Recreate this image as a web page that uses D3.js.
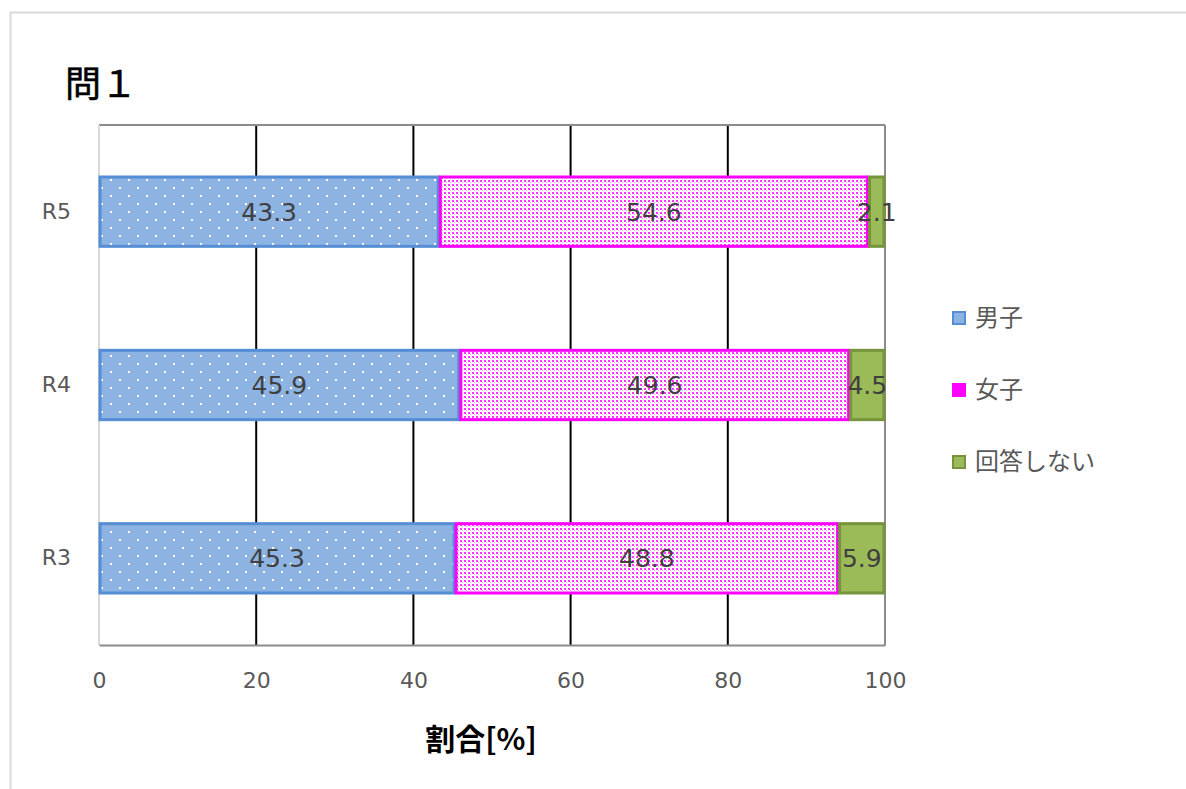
<!DOCTYPE html>
<html>
<head>
<meta charset="utf-8">
<script src="https://cdn.jsdelivr.net/npm/d3@7"></script>
<style>
  body { margin: 0; background: #fff; }
  text { font-family: "Noto Sans CJK JP", "Noto Sans", sans-serif; }
</style>
</head>
<body>
<div id="chart"></div>
<script>
const years = ["R5", "R4", "R3"];
const seriesNames = ["男子", "女子", "回答しない"];
const boys = [43.3, 45.9, 45.3];
const girls = [54.6, 49.6, 48.8];
const noAnswer = [2.1, 4.5, 5.9];
const xTicks = [0, 20, 40, 60, 80, 100];

const width = 1186, height = 789;
const plot = { left: 99, right: 885, top: 125, bottom: 645 };
const numFont = "'DejaVu Sans', 'Noto Sans', sans-serif";

const svg = d3.select("#chart").append("svg")
  .attr("width", width)
  .attr("height", height);

// patterns
const defs = svg.append("defs");
const pBlue = defs.append("pattern").attr("id", "pBlue")
  .attr("patternUnits", "userSpaceOnUse").attr("width", 18).attr("height", 16);
pBlue.append("rect").attr("width", 18).attr("height", 16).attr("fill", "#8DB3E2");
pBlue.append("rect").attr("x", 2).attr("y", 3).attr("width", 2).attr("height", 2).attr("fill", "#fff");
pBlue.append("rect").attr("x", 11).attr("y", 11).attr("width", 2).attr("height", 2).attr("fill", "#fff");

const pPink = defs.append("pattern").attr("id", "pPink")
  .attr("patternUnits", "userSpaceOnUse").attr("width", 4).attr("height", 4);
pPink.append("rect").attr("width", 4).attr("height", 4).attr("fill", "#fff");
pPink.append("rect").attr("x", 0).attr("y", 0).attr("width", 2).attr("height", 2).attr("fill", "#FF33FF");
pPink.append("rect").attr("x", 2).attr("y", 2).attr("width", 1).attr("height", 1).attr("fill", "#FF99FF");

// outer frame
svg.append("path")
  .attr("d", `M10.5,${height} V12.5 H${width}`)
  .attr("fill", "none").attr("stroke", "#d9d9d9").attr("stroke-width", 2);

const x = d3.scaleLinear().domain([0, 100]).range([plot.left, plot.right]);
const y = d3.scaleBand().domain(years).range([plot.top, plot.bottom]).paddingInner(0.6).paddingOuter(0.3);

// gridlines
svg.append("g").selectAll("line")
  .data(xTicks.filter(t => t > 0 && t < 100))
  .join("line")
  .attr("x1", d => x(d)).attr("x2", d => x(d))
  .attr("y1", plot.top).attr("y2", plot.bottom)
  .attr("stroke", "#000").attr("stroke-width", 2);

// plot border
svg.append("line").attr("x1", plot.left).attr("x2", plot.right)
  .attr("y1", plot.top).attr("y2", plot.top).attr("stroke", "#8c8c8c").attr("stroke-width", 2);
svg.append("line").attr("x1", plot.right).attr("x2", plot.right)
  .attr("y1", plot.top).attr("y2", plot.bottom).attr("stroke", "#8c8c8c").attr("stroke-width", 2);
svg.append("line").attr("x1", plot.left).attr("x2", plot.left)
  .attr("y1", plot.top).attr("y2", plot.bottom).attr("stroke", "#d9d9d9").attr("stroke-width", 2);

// stacked data
const rows = years.map((yr, i) => ({ year: yr, "男子": boys[i], "女子": girls[i], "回答しない": noAnswer[i] }));
const stack = d3.stack().keys(seriesNames)(rows);
const fills = ["url(#pBlue)", "url(#pPink)", "#9BBB59"];
const strokes = ["#558ED5", "#FF00FF", "#77933C"];

const groups = svg.append("g").selectAll("g")
  .data(stack)
  .join("g");

groups.selectAll("rect")
  .data((s, i) => s.map(d => ({ d, i })))
  .join("rect")
  .attr("x", o => x(o.d[0]) + 1)
  .attr("y", o => y(o.d.data.year))
  .attr("width", o => x(o.d[1]) - x(o.d[0]) - 2)
  .attr("height", y.bandwidth())
  .attr("fill", o => fills[o.i])
  .attr("stroke", o => strokes[o.i])
  .attr("stroke-width", 3);

groups.selectAll("text")
  .data(s => s)
  .join("text")
  .attr("x", d => (x(d[0]) + x(d[1])) / 2)
  .attr("y", d => y(d.data.year) + y.bandwidth() / 2)
  .attr("dy", "0.36em")
  .attr("text-anchor", "middle")
  .attr("font-size", 25)
  .attr("fill", "#404040")
  .style("font-family", numFont)
  .text(d => (d[1] - d[0]).toFixed(1));

// axes (bottom tick labels)
const xAxis = svg.append("g")
  .attr("transform", `translate(0,${plot.bottom})`)
  .call(d3.axisBottom(x).tickValues(xTicks).tickSize(0).tickPadding(27));
xAxis.select(".domain").attr("stroke", "#8c8c8c").attr("stroke-width", 2);
xAxis.selectAll("text").attr("font-size", 22).attr("fill", "#595959")
  .style("font-family", numFont);

const yAxis = svg.append("g")
  .attr("transform", `translate(${plot.left},0)`)
  .call(d3.axisLeft(y).tickSize(0).tickPadding(28));
yAxis.select(".domain").remove();
yAxis.selectAll("text").attr("font-size", 22).attr("fill", "#595959")
  .style("font-family", numFont);

// axis title
svg.append("text")
  .attr("x", (plot.left + plot.right) / 2 - 11)
  .attr("y", 750)
  .attr("text-anchor", "middle")
  .attr("font-size", 30)
  .attr("font-weight", "bold")
  .attr("fill", "#000")
  .text("割合[%]");

// chart title
svg.append("text")
  .attr("x", 65)
  .attr("y", 97)
  .attr("font-size", 36)
  .attr("fill", "#000")
  .attr("stroke", "#000")
  .attr("stroke-width", 0.6)
  .text("問１");

// legend
const legendY = [318, 390, 462];
const legend = svg.append("g").selectAll("g")
  .data(seriesNames)
  .join("g")
  .attr("transform", (d, i) => `translate(953,${legendY[i]})`);
legend.append("rect")
  .attr("x", 0).attr("y", -6).attr("width", 12).attr("height", 12)
  .attr("fill", (d, i) => i === 1 ? "#FF00FF" : fills[i] === "url(#pBlue)" ? "#8DB3E2" : fills[i])
  .attr("stroke", (d, i) => strokes[i]).attr("stroke-width", 2);
legend.append("text")
  .attr("x", 22).attr("y", 0).attr("dy", "0.35em")
  .attr("font-size", 24).attr("fill", "#595959")
  .text(d => d);
</script>
</body>
</html>
